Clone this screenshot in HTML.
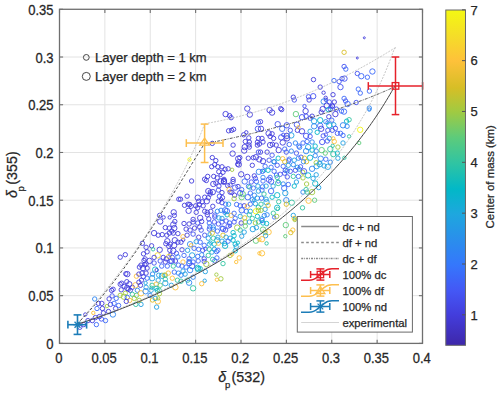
<!DOCTYPE html>
<html><head><meta charset="utf-8"><style>
html,body{margin:0;padding:0;background:#fff;}
svg{display:block;font-family:"Liberation Sans", sans-serif;}
text{stroke:#262626;stroke-width:0.25px;}
</style></head><body>
<svg width="500" height="396" viewBox="0 0 500 396">
<rect width="500" height="396" fill="#fff"/>
<line x1="104.88" y1="9.29" x2="104.88" y2="343.40" stroke="#e3e3e3" stroke-width="1"/>
<line x1="150.25" y1="9.29" x2="150.25" y2="343.40" stroke="#e3e3e3" stroke-width="1"/>
<line x1="195.63" y1="9.29" x2="195.63" y2="343.40" stroke="#e3e3e3" stroke-width="1"/>
<line x1="241.00" y1="9.29" x2="241.00" y2="343.40" stroke="#e3e3e3" stroke-width="1"/>
<line x1="286.38" y1="9.29" x2="286.38" y2="343.40" stroke="#e3e3e3" stroke-width="1"/>
<line x1="331.75" y1="9.29" x2="331.75" y2="343.40" stroke="#e3e3e3" stroke-width="1"/>
<line x1="377.13" y1="9.29" x2="377.13" y2="343.40" stroke="#e3e3e3" stroke-width="1"/>
<line x1="59.50" y1="295.67" x2="422.50" y2="295.67" stroke="#e3e3e3" stroke-width="1"/>
<line x1="59.50" y1="247.94" x2="422.50" y2="247.94" stroke="#e3e3e3" stroke-width="1"/>
<line x1="59.50" y1="200.21" x2="422.50" y2="200.21" stroke="#e3e3e3" stroke-width="1"/>
<line x1="59.50" y1="152.48" x2="422.50" y2="152.48" stroke="#e3e3e3" stroke-width="1"/>
<line x1="59.50" y1="104.75" x2="422.50" y2="104.75" stroke="#e3e3e3" stroke-width="1"/>
<line x1="59.50" y1="57.02" x2="422.50" y2="57.02" stroke="#e3e3e3" stroke-width="1"/>
<g fill="none" stroke-width="0.9"><circle cx="288.8" cy="160.8" r="2.2" stroke="#3c69f9"/><circle cx="276.5" cy="175.1" r="2.2" stroke="#3c69f9"/><circle cx="272.4" cy="144.3" r="2.2" stroke="#433ddc"/><circle cx="284.6" cy="173.2" r="2.2" stroke="#4452f0"/><circle cx="278.3" cy="181.4" r="1.7" stroke="#3c69f9"/><circle cx="287.0" cy="138.4" r="2.7" stroke="#433ddc"/><circle cx="274.0" cy="161.8" r="2.2" stroke="#4452f0"/><circle cx="299.6" cy="147.3" r="2.2" stroke="#2e86f2"/><circle cx="287.2" cy="170.9" r="2.2" stroke="#21a0e2"/><circle cx="264.1" cy="170.7" r="1.7" stroke="#05b6c9"/><circle cx="299.2" cy="169.1" r="2.2" stroke="#21a0e2"/><circle cx="259.3" cy="159.4" r="2.7" stroke="#433ddc"/><circle cx="325.9" cy="134.6" r="1.7" stroke="#4452f0"/><circle cx="330.6" cy="106.5" r="1.7" stroke="#4452f0"/><circle cx="313.2" cy="96.2" r="2.7" stroke="#4452f0"/><circle cx="327.5" cy="122.6" r="1.7" stroke="#3c69f9"/><circle cx="332.4" cy="106.0" r="2.2" stroke="#4452f0"/><circle cx="325.8" cy="99.8" r="1.7" stroke="#433ddc"/><circle cx="306.5" cy="161.7" r="2.2" stroke="#d9be27"/><circle cx="302.7" cy="172.3" r="2.2" stroke="#a1ca41"/><circle cx="332.7" cy="145.8" r="1.7" stroke="#31c4a1"/><circle cx="319.9" cy="162.7" r="1.7" stroke="#21a0e2"/><circle cx="316.6" cy="166.2" r="2.7" stroke="#21a0e2"/><circle cx="324.1" cy="165.9" r="2.2" stroke="#21a0e2"/><circle cx="238.0" cy="186.5" r="2.2" stroke="#433ddc"/><circle cx="223.9" cy="181.8" r="2.7" stroke="#433ddc"/><circle cx="220.9" cy="181.3" r="2.7" stroke="#433ddc"/><circle cx="231.8" cy="192.3" r="2.2" stroke="#433ddc"/><circle cx="224.6" cy="212.8" r="1.7" stroke="#2e86f2"/><circle cx="221.1" cy="199.2" r="1.7" stroke="#433ddc"/><circle cx="248.5" cy="186.4" r="2.2" stroke="#3c69f9"/><circle cx="227.7" cy="185.6" r="2.2" stroke="#433ddc"/><circle cx="236.6" cy="204.5" r="2.2" stroke="#3c69f9"/><circle cx="242.7" cy="194.0" r="2.7" stroke="#5fcb7a"/><circle cx="254.1" cy="200.3" r="1.7" stroke="#21a0e2"/><circle cx="226.9" cy="211.1" r="2.7" stroke="#3c69f9"/><circle cx="214.8" cy="260.8" r="2.2" stroke="#3c69f9"/><circle cx="213.4" cy="229.3" r="2.2" stroke="#2e86f2"/><circle cx="189.3" cy="263.2" r="2.7" stroke="#4452f0"/><circle cx="217.2" cy="240.2" r="2.7" stroke="#21a0e2"/><circle cx="211.9" cy="252.1" r="2.2" stroke="#21a0e2"/><circle cx="183.2" cy="239.8" r="1.7" stroke="#433ddc"/><circle cx="210.4" cy="242.6" r="1.7" stroke="#05b6c9"/><circle cx="209.6" cy="234.1" r="1.7" stroke="#21a0e2"/><circle cx="212.7" cy="259.4" r="2.2" stroke="#31c4a1"/><circle cx="209.8" cy="226.8" r="2.2" stroke="#2e86f2"/><circle cx="205.4" cy="248.9" r="1.7" stroke="#4452f0"/><circle cx="216.5" cy="251.6" r="2.2" stroke="#3c69f9"/><circle cx="224.6" cy="243.5" r="2.2" stroke="#21a0e2"/><circle cx="237.8" cy="242.7" r="1.7" stroke="#05b6c9"/><circle cx="235.3" cy="250.8" r="2.2" stroke="#05b6c9"/><circle cx="230.0" cy="225.8" r="1.7" stroke="#4452f0"/><circle cx="223.0" cy="228.9" r="2.7" stroke="#4452f0"/><circle cx="262.5" cy="186.8" r="2.2" stroke="#3c69f9"/><circle cx="264.3" cy="215.6" r="2.2" stroke="#2e86f2"/><circle cx="268.9" cy="179.7" r="2.7" stroke="#4452f0"/><circle cx="266.5" cy="202.2" r="2.7" stroke="#21a0e2"/><circle cx="294.8" cy="218.2" r="1.7" stroke="#31c4a1"/><circle cx="273.3" cy="213.2" r="2.2" stroke="#31c4a1"/><circle cx="207.2" cy="212.3" r="2.2" stroke="#433ddc"/><circle cx="210.1" cy="194.1" r="2.2" stroke="#433ddc"/><circle cx="189.7" cy="204.5" r="2.2" stroke="#433ddc"/><circle cx="214.9" cy="215.1" r="2.2" stroke="#4452f0"/><circle cx="145.6" cy="283.0" r="1.7" stroke="#21a0e2"/><circle cx="165.3" cy="275.2" r="2.2" stroke="#31c4a1"/><circle cx="157.2" cy="290.4" r="2.2" stroke="#05b6c9"/><circle cx="159.4" cy="293.7" r="2.2" stroke="#a1ca41"/><circle cx="162.0" cy="275.8" r="2.7" stroke="#21a0e2"/><circle cx="171.8" cy="260.9" r="2.7" stroke="#4452f0"/><circle cx="149.6" cy="260.9" r="2.7" stroke="#433ddc"/><circle cx="144.8" cy="264.8" r="2.2" stroke="#433ddc"/><circle cx="220.9" cy="278.8" r="2.2" stroke="#a1ca41"/><circle cx="204.7" cy="280.7" r="1.7" stroke="#21a0e2"/><circle cx="197.5" cy="267.8" r="2.7" stroke="#05b6c9"/><circle cx="125.8" cy="273.8" r="2.2" stroke="#433ddc"/><circle cx="111.6" cy="290.4" r="2.2" stroke="#433ddc"/><circle cx="143.3" cy="276.7" r="2.2" stroke="#433ddc"/><circle cx="127.2" cy="287.9" r="2.7" stroke="#433ddc"/><circle cx="123.9" cy="296.7" r="2.7" stroke="#a1ca41"/><circle cx="170.2" cy="254.6" r="1.7" stroke="#433ddc"/><circle cx="142.4" cy="243.3" r="2.2" stroke="#433ddc"/><circle cx="147.1" cy="251.8" r="2.2" stroke="#433ddc"/><circle cx="174.1" cy="245.4" r="2.7" stroke="#433ddc"/><circle cx="220.6" cy="175.0" r="1.7" stroke="#433ddc"/><circle cx="239.8" cy="157.6" r="2.2" stroke="#433ddc"/><circle cx="249.0" cy="144.9" r="2.2" stroke="#433ddc"/><circle cx="238.8" cy="164.5" r="2.7" stroke="#433ddc"/><circle cx="257.4" cy="142.2" r="2.2" stroke="#433ddc"/><circle cx="178.8" cy="199.2" r="2.2" stroke="#433ddc"/><circle cx="159.6" cy="215.4" r="2.2" stroke="#433ddc"/><circle cx="163.6" cy="217.4" r="1.7" stroke="#433ddc"/><circle cx="169.7" cy="217.4" r="1.7" stroke="#433ddc"/><circle cx="173.7" cy="212.3" r="2.7" stroke="#433ddc"/><circle cx="174.3" cy="215.4" r="2.2" stroke="#433ddc"/><circle cx="125.3" cy="254.7" r="2.2" stroke="#433ddc"/><circle cx="120.2" cy="257.2" r="2.2" stroke="#433ddc"/><circle cx="127.3" cy="274.1" r="2.7" stroke="#433ddc"/><circle cx="136.4" cy="276.2" r="2.2" stroke="#fec13a"/><circle cx="139.4" cy="267.1" r="2.2" stroke="#433ddc"/><circle cx="138.9" cy="274.1" r="2.2" stroke="#433ddc"/><circle cx="120.2" cy="284.2" r="2.2" stroke="#433ddc"/><circle cx="121.7" cy="283.2" r="2.2" stroke="#433ddc"/><circle cx="126.8" cy="281.7" r="2.2" stroke="#433ddc"/><circle cx="124.2" cy="286.3" r="2.2" stroke="#433ddc"/><circle cx="129.3" cy="284.2" r="2.7" stroke="#433ddc"/><circle cx="132.3" cy="287.3" r="2.2" stroke="#433ddc"/><circle cx="135.4" cy="285.3" r="2.7" stroke="#fec13a"/><circle cx="138.9" cy="282.2" r="2.2" stroke="#433ddc"/><circle cx="113.1" cy="289.3" r="2.2" stroke="#433ddc"/><circle cx="121.2" cy="289.8" r="2.2" stroke="#433ddc"/><circle cx="128.3" cy="289.3" r="2.2" stroke="#433ddc"/><circle cx="130.3" cy="290.3" r="2.2" stroke="#433ddc"/><circle cx="137.4" cy="290.3" r="2.2" stroke="#2e86f2"/><circle cx="112.1" cy="295.9" r="2.2" stroke="#4452f0"/><circle cx="120.2" cy="295.4" r="2.2" stroke="#a1ca41"/><circle cx="125.3" cy="293.3" r="2.2" stroke="#a1ca41"/><circle cx="132.3" cy="294.3" r="2.2" stroke="#31c4a1"/><circle cx="136.4" cy="295.4" r="2.2" stroke="#5fcb7a"/><circle cx="109.1" cy="298.9" r="2.2" stroke="#433ddc"/><circle cx="116.2" cy="298.4" r="2.2" stroke="#3c69f9"/><circle cx="127.3" cy="297.4" r="2.2" stroke="#3c69f9"/><circle cx="134.3" cy="298.4" r="2.2" stroke="#a1ca41"/><circle cx="212.3" cy="143.4" r="2.2" stroke="#433ddc"/><circle cx="189.5" cy="159.6" r="1.7" stroke="#F4F713"/><circle cx="212.3" cy="157.6" r="2.2" stroke="#433ddc"/><circle cx="215.8" cy="160.6" r="2.2" stroke="#433ddc"/><circle cx="214.7" cy="164.6" r="2.2" stroke="#433ddc"/><circle cx="217.8" cy="166.7" r="2.2" stroke="#433ddc"/><circle cx="211.7" cy="166.7" r="2.2" stroke="#433ddc"/><circle cx="218.8" cy="171.7" r="2.2" stroke="#433ddc"/><circle cx="207.7" cy="176.4" r="2.2" stroke="#433ddc"/><circle cx="213.7" cy="176.4" r="2.2" stroke="#433ddc"/><circle cx="217.2" cy="177.8" r="2.2" stroke="#433ddc"/><circle cx="204.6" cy="179.2" r="2.2" stroke="#433ddc"/><circle cx="160.2" cy="221.5" r="2.7" stroke="#433ddc"/><circle cx="174.8" cy="221.5" r="2.2" stroke="#433ddc"/><circle cx="173.3" cy="224.5" r="2.7" stroke="#433ddc"/><circle cx="165.3" cy="227.6" r="2.2" stroke="#433ddc"/><circle cx="169.3" cy="228.1" r="2.2" stroke="#433ddc"/><circle cx="174.3" cy="228.1" r="2.7" stroke="#433ddc"/><circle cx="171.8" cy="231.1" r="2.2" stroke="#433ddc"/><circle cx="154.1" cy="233.1" r="2.7" stroke="#433ddc"/><circle cx="158.2" cy="235.2" r="2.2" stroke="#433ddc"/><circle cx="162.2" cy="234.6" r="2.2" stroke="#433ddc"/><circle cx="166.8" cy="235.2" r="2.2" stroke="#433ddc"/><circle cx="169.3" cy="233.1" r="2.2" stroke="#433ddc"/><circle cx="173.3" cy="233.1" r="2.2" stroke="#433ddc"/><circle cx="177.9" cy="233.6" r="2.2" stroke="#433ddc"/><circle cx="167.3" cy="241.2" r="2.7" stroke="#433ddc"/><circle cx="174.8" cy="240.2" r="2.7" stroke="#433ddc"/><circle cx="177.9" cy="242.2" r="2.2" stroke="#433ddc"/><circle cx="165.8" cy="243.7" r="2.2" stroke="#433ddc"/><circle cx="170.3" cy="244.2" r="2.2" stroke="#433ddc"/><circle cx="168.8" cy="246.3" r="2.2" stroke="#433ddc"/><circle cx="146.1" cy="247.3" r="2.2" stroke="#433ddc"/><circle cx="151.6" cy="245.8" r="2.2" stroke="#433ddc"/><circle cx="153.1" cy="249.3" r="1.7" stroke="#31c4a1"/><circle cx="159.7" cy="249.8" r="2.7" stroke="#433ddc"/><circle cx="169.8" cy="250.3" r="2.2" stroke="#433ddc"/><circle cx="173.3" cy="250.8" r="2.7" stroke="#433ddc"/><circle cx="176.4" cy="253.3" r="2.2" stroke="#4452f0"/><circle cx="143.5" cy="253.8" r="2.2" stroke="#433ddc"/><circle cx="157.7" cy="255.4" r="2.7" stroke="#f5de27"/><circle cx="154.1" cy="257.4" r="2.2" stroke="#433ddc"/><circle cx="163.2" cy="257.4" r="2.2" stroke="#433ddc"/><circle cx="168.8" cy="256.4" r="2.2" stroke="#f5de27"/><circle cx="172.3" cy="257.4" r="2.2" stroke="#4452f0"/><circle cx="177.9" cy="256.9" r="2.2" stroke="#2e86f2"/><circle cx="145.1" cy="258.9" r="2.2" stroke="#433ddc"/><circle cx="166.3" cy="258.9" r="2.2" stroke="#433ddc"/><circle cx="157.8" cy="301.4" r="2.7" stroke="#fec13a"/><circle cx="152.5" cy="300.0" r="2.2" stroke="#d9be27"/><circle cx="156.6" cy="307.1" r="2.2" stroke="#21a0e2"/><circle cx="141.0" cy="304.4" r="2.2" stroke="#21a0e2"/><circle cx="144.0" cy="260.5" r="2.2" stroke="#433ddc"/><circle cx="154.1" cy="263.0" r="2.2" stroke="#4452f0"/><circle cx="160.2" cy="261.0" r="2.2" stroke="#4452f0"/><circle cx="165.3" cy="262.0" r="2.2" stroke="#433ddc"/><circle cx="170.3" cy="261.5" r="2.2" stroke="#4452f0"/><circle cx="175.4" cy="261.0" r="2.2" stroke="#433ddc"/><circle cx="141.0" cy="265.1" r="2.2" stroke="#433ddc"/><circle cx="146.1" cy="264.0" r="2.2" stroke="#433ddc"/><circle cx="143.0" cy="268.1" r="2.7" stroke="#433ddc"/><circle cx="147.1" cy="268.1" r="2.2" stroke="#433ddc"/><circle cx="155.2" cy="269.6" r="2.7" stroke="#05b6c9"/><circle cx="156.7" cy="270.1" r="1.7" stroke="#433ddc"/><circle cx="161.7" cy="266.1" r="2.2" stroke="#3c69f9"/><circle cx="167.3" cy="266.1" r="2.2" stroke="#3c69f9"/><circle cx="173.3" cy="266.1" r="2.2" stroke="#31c4a1"/><circle cx="178.4" cy="265.1" r="2.2" stroke="#3c69f9"/><circle cx="142.0" cy="273.1" r="2.2" stroke="#433ddc"/><circle cx="146.1" cy="273.1" r="2.2" stroke="#433ddc"/><circle cx="152.6" cy="274.1" r="2.2" stroke="#2e86f2"/><circle cx="158.7" cy="275.2" r="2.2" stroke="#21a0e2"/><circle cx="164.2" cy="275.2" r="2.2" stroke="#d9be27"/><circle cx="168.3" cy="273.1" r="2.2" stroke="#fec13a"/><circle cx="174.3" cy="272.1" r="2.2" stroke="#3c69f9"/><circle cx="178.4" cy="273.1" r="2.2" stroke="#2e86f2"/><circle cx="141.5" cy="280.2" r="2.2" stroke="#433ddc"/><circle cx="147.1" cy="278.2" r="2.2" stroke="#3c69f9"/><circle cx="152.1" cy="278.2" r="2.7" stroke="#21a0e2"/><circle cx="158.2" cy="280.2" r="2.2" stroke="#21a0e2"/><circle cx="165.3" cy="279.2" r="2.2" stroke="#31c4a1"/><circle cx="172.3" cy="278.2" r="2.2" stroke="#fec13a"/><circle cx="177.4" cy="280.2" r="2.2" stroke="#31c4a1"/><circle cx="140.5" cy="285.3" r="2.2" stroke="#433ddc"/><circle cx="146.1" cy="287.3" r="2.2" stroke="#21a0e2"/><circle cx="152.1" cy="285.3" r="2.2" stroke="#31c4a1"/><circle cx="156.2" cy="284.2" r="2.2" stroke="#fec13a"/><circle cx="160.2" cy="285.3" r="2.2" stroke="#5fcb7a"/><circle cx="165.3" cy="283.2" r="2.7" stroke="#21a0e2"/><circle cx="171.3" cy="285.3" r="2.2" stroke="#21a0e2"/><circle cx="175.4" cy="287.3" r="2.7" stroke="#fec13a"/><circle cx="151.6" cy="287.8" r="1.7" stroke="#31c4a1"/><circle cx="156.2" cy="288.3" r="2.2" stroke="#05b6c9"/><circle cx="141.0" cy="293.3" r="2.7" stroke="#fec13a"/><circle cx="145.6" cy="291.3" r="2.7" stroke="#2e86f2"/><circle cx="151.1" cy="290.3" r="2.2" stroke="#21a0e2"/><circle cx="159.2" cy="290.3" r="2.2" stroke="#31c4a1"/><circle cx="150.1" cy="295.4" r="2.2" stroke="#2e86f2"/><circle cx="155.2" cy="298.4" r="2.2" stroke="#21a0e2"/><circle cx="158.2" cy="298.4" r="1.7" stroke="#a1ca41"/><circle cx="191.6" cy="181.0" r="2.2" stroke="#433ddc"/><circle cx="206.3" cy="180.5" r="2.2" stroke="#433ddc"/><circle cx="213.3" cy="184.0" r="2.7" stroke="#433ddc"/><circle cx="215.9" cy="183.0" r="2.2" stroke="#433ddc"/><circle cx="218.9" cy="186.1" r="2.2" stroke="#433ddc"/><circle cx="218.4" cy="190.1" r="2.2" stroke="#4452f0"/><circle cx="219.4" cy="196.2" r="2.2" stroke="#4452f0"/><circle cx="218.4" cy="201.2" r="2.2" stroke="#433ddc"/><circle cx="208.3" cy="191.1" r="2.7" stroke="#433ddc"/><circle cx="210.3" cy="192.1" r="2.2" stroke="#433ddc"/><circle cx="212.8" cy="192.1" r="2.7" stroke="#433ddc"/><circle cx="187.1" cy="196.2" r="2.2" stroke="#433ddc"/><circle cx="180.5" cy="199.2" r="2.2" stroke="#433ddc"/><circle cx="197.7" cy="197.7" r="2.7" stroke="#433ddc"/><circle cx="204.7" cy="197.2" r="2.2" stroke="#433ddc"/><circle cx="208.3" cy="197.7" r="2.2" stroke="#433ddc"/><circle cx="198.7" cy="201.2" r="2.2" stroke="#433ddc"/><circle cx="202.2" cy="201.7" r="2.2" stroke="#433ddc"/><circle cx="206.8" cy="201.2" r="2.7" stroke="#433ddc"/><circle cx="184.5" cy="205.3" r="2.2" stroke="#433ddc"/><circle cx="188.1" cy="204.2" r="2.2" stroke="#433ddc"/><circle cx="191.1" cy="206.3" r="2.2" stroke="#433ddc"/><circle cx="195.7" cy="205.8" r="2.2" stroke="#433ddc"/><circle cx="199.2" cy="204.7" r="2.2" stroke="#433ddc"/><circle cx="203.2" cy="205.8" r="2.2" stroke="#433ddc"/><circle cx="197.7" cy="207.8" r="2.2" stroke="#433ddc"/><circle cx="188.6" cy="210.8" r="2.7" stroke="#433ddc"/><circle cx="196.2" cy="212.3" r="2.2" stroke="#433ddc"/><circle cx="204.7" cy="211.3" r="2.2" stroke="#433ddc"/><circle cx="210.8" cy="211.3" r="2.2" stroke="#433ddc"/><circle cx="212.8" cy="206.3" r="2.2" stroke="#433ddc"/><circle cx="217.4" cy="211.3" r="2.2" stroke="#2e86f2"/><circle cx="200.2" cy="217.9" r="2.7" stroke="#433ddc"/><circle cx="207.3" cy="214.8" r="2.2" stroke="#433ddc"/><circle cx="214.8" cy="216.9" r="2.2" stroke="#4452f0"/><circle cx="218.9" cy="217.9" r="2.2" stroke="#21a0e2"/><circle cx="193.1" cy="219.4" r="2.2" stroke="#433ddc"/><circle cx="208.8" cy="218.9" r="2.2" stroke="#433ddc"/><circle cx="184.0" cy="223.5" r="2.2" stroke="#433ddc"/><circle cx="189.1" cy="224.0" r="2.2" stroke="#433ddc"/><circle cx="193.1" cy="222.0" r="2.2" stroke="#433ddc"/><circle cx="197.7" cy="223.0" r="2.2" stroke="#4452f0"/><circle cx="201.7" cy="221.5" r="2.2" stroke="#433ddc"/><circle cx="209.3" cy="223.0" r="2.2" stroke="#3c69f9"/><circle cx="214.3" cy="222.0" r="2.2" stroke="#4452f0"/><circle cx="218.4" cy="224.0" r="2.2" stroke="#4452f0"/><circle cx="186.1" cy="229.1" r="2.2" stroke="#433ddc"/><circle cx="190.1" cy="230.1" r="2.2" stroke="#433ddc"/><circle cx="194.6" cy="228.1" r="2.2" stroke="#433ddc"/><circle cx="199.7" cy="227.1" r="2.2" stroke="#433ddc"/><circle cx="201.2" cy="230.1" r="2.2" stroke="#4452f0"/><circle cx="209.3" cy="229.1" r="2.2" stroke="#4452f0"/><circle cx="213.3" cy="227.1" r="2.2" stroke="#2e86f2"/><circle cx="217.4" cy="231.1" r="2.2" stroke="#3c69f9"/><circle cx="212.3" cy="233.1" r="2.2" stroke="#d9be27"/><circle cx="183.0" cy="236.7" r="2.2" stroke="#fec13a"/><circle cx="187.1" cy="235.2" r="2.2" stroke="#433ddc"/><circle cx="193.1" cy="234.1" r="2.2" stroke="#4452f0"/><circle cx="198.7" cy="237.2" r="2.2" stroke="#433ddc"/><circle cx="204.7" cy="235.2" r="2.2" stroke="#4452f0"/><circle cx="208.3" cy="238.2" r="2.2" stroke="#21a0e2"/><circle cx="213.3" cy="238.2" r="2.2" stroke="#31c4a1"/><circle cx="217.9" cy="237.2" r="2.2" stroke="#21a0e2"/><circle cx="181.0" cy="242.2" r="2.2" stroke="#433ddc"/><circle cx="190.1" cy="244.2" r="2.7" stroke="#2e86f2"/><circle cx="191.1" cy="245.3" r="1.7" stroke="#fec13a"/><circle cx="196.2" cy="241.7" r="2.2" stroke="#21a0e2"/><circle cx="200.2" cy="242.2" r="2.2" stroke="#3c69f9"/><circle cx="204.2" cy="245.3" r="2.2" stroke="#3c69f9"/><circle cx="209.3" cy="244.2" r="2.2" stroke="#21a0e2"/><circle cx="214.3" cy="244.2" r="2.2" stroke="#05b6c9"/><circle cx="218.4" cy="243.2" r="2.2" stroke="#fec13a"/><circle cx="182.0" cy="249.8" r="2.2" stroke="#433ddc"/><circle cx="187.6" cy="250.3" r="2.2" stroke="#21a0e2"/><circle cx="194.1" cy="248.3" r="2.2" stroke="#3c69f9"/><circle cx="198.7" cy="249.3" r="2.2" stroke="#3c69f9"/><circle cx="202.7" cy="250.3" r="2.2" stroke="#4452f0"/><circle cx="209.3" cy="249.3" r="2.2" stroke="#31c4a1"/><circle cx="214.3" cy="249.3" r="2.2" stroke="#21a0e2"/><circle cx="217.9" cy="250.3" r="2.2" stroke="#3c69f9"/><circle cx="184.0" cy="255.4" r="2.2" stroke="#3c69f9"/><circle cx="192.1" cy="255.4" r="2.7" stroke="#21a0e2"/><circle cx="197.7" cy="256.4" r="2.2" stroke="#3c69f9"/><circle cx="201.7" cy="254.8" r="2.2" stroke="#2e86f2"/><circle cx="208.3" cy="255.4" r="2.2" stroke="#31c4a1"/><circle cx="216.9" cy="257.9" r="2.2" stroke="#3c69f9"/><circle cx="189.1" cy="258.9" r="2.2" stroke="#4452f0"/><circle cx="204.2" cy="258.9" r="2.2" stroke="#433ddc"/><circle cx="183.0" cy="262.0" r="2.2" stroke="#fec13a"/><circle cx="189.1" cy="261.5" r="2.2" stroke="#2e86f2"/><circle cx="193.1" cy="262.0" r="2.2" stroke="#3c69f9"/><circle cx="198.2" cy="261.0" r="2.2" stroke="#3c69f9"/><circle cx="204.2" cy="261.5" r="2.2" stroke="#4452f0"/><circle cx="206.3" cy="264.0" r="2.7" stroke="#a1ca41"/><circle cx="182.0" cy="266.1" r="2.2" stroke="#3c69f9"/><circle cx="186.1" cy="267.1" r="2.2" stroke="#3c69f9"/><circle cx="192.1" cy="266.1" r="2.7" stroke="#4452f0"/><circle cx="190.1" cy="270.1" r="2.7" stroke="#2e86f2"/><circle cx="198.2" cy="269.1" r="2.7" stroke="#05b6c9"/><circle cx="200.2" cy="268.6" r="2.2" stroke="#05b6c9"/><circle cx="205.3" cy="271.6" r="2.2" stroke="#21a0e2"/><circle cx="183.0" cy="271.1" r="2.2" stroke="#21a0e2"/><circle cx="185.1" cy="274.1" r="2.2" stroke="#21a0e2"/><circle cx="181.0" cy="275.2" r="2.2" stroke="#2e86f2"/><circle cx="193.1" cy="277.2" r="2.2" stroke="#2e86f2"/><circle cx="187.6" cy="280.2" r="2.2" stroke="#31c4a1"/><circle cx="189.1" cy="282.7" r="2.7" stroke="#2e86f2"/><circle cx="181.0" cy="281.2" r="2.2" stroke="#31c4a1"/><circle cx="193.1" cy="288.3" r="2.7" stroke="#31c4a1"/><circle cx="201.7" cy="283.7" r="2.2" stroke="#fec13a"/><circle cx="216.4" cy="274.6" r="1.7" stroke="#a1ca41"/><circle cx="216.9" cy="279.7" r="1.7" stroke="#fec13a"/><circle cx="247.3" cy="108.6" r="2.7" stroke="#433ddc"/><circle cx="249.8" cy="114.6" r="2.7" stroke="#433ddc"/><circle cx="225.6" cy="114.1" r="2.7" stroke="#433ddc"/><circle cx="229.6" cy="115.7" r="2.2" stroke="#433ddc"/><circle cx="231.1" cy="117.7" r="2.2" stroke="#433ddc"/><circle cx="228.6" cy="130.8" r="2.2" stroke="#433ddc"/><circle cx="231.6" cy="130.3" r="2.2" stroke="#433ddc"/><circle cx="233.6" cy="129.3" r="2.2" stroke="#433ddc"/><circle cx="246.3" cy="132.3" r="1.7" stroke="#433ddc"/><circle cx="243.7" cy="134.8" r="2.2" stroke="#433ddc"/><circle cx="248.8" cy="137.9" r="2.2" stroke="#433ddc"/><circle cx="258.4" cy="122.2" r="2.2" stroke="#4452f0"/><circle cx="257.9" cy="128.8" r="2.7" stroke="#4452f0"/><circle cx="258.4" cy="138.4" r="2.2" stroke="#433ddc"/><circle cx="233.1" cy="145.1" r="2.2" stroke="#433ddc"/><circle cx="245.3" cy="141.5" r="2.2" stroke="#433ddc"/><circle cx="249.3" cy="142.0" r="2.2" stroke="#433ddc"/><circle cx="244.7" cy="147.1" r="2.7" stroke="#433ddc"/><circle cx="249.3" cy="147.1" r="2.2" stroke="#433ddc"/><circle cx="244.2" cy="150.6" r="2.7" stroke="#433ddc"/><circle cx="232.6" cy="153.6" r="2.7" stroke="#433ddc"/><circle cx="238.2" cy="158.7" r="2.7" stroke="#433ddc"/><circle cx="238.7" cy="161.7" r="2.2" stroke="#433ddc"/><circle cx="237.7" cy="164.2" r="2.2" stroke="#433ddc"/><circle cx="248.3" cy="158.2" r="2.2" stroke="#433ddc"/><circle cx="253.3" cy="157.7" r="2.2" stroke="#433ddc"/><circle cx="255.9" cy="157.2" r="2.7" stroke="#433ddc"/><circle cx="258.4" cy="152.1" r="2.2" stroke="#4452f0"/><circle cx="257.4" cy="145.1" r="2.2" stroke="#433ddc"/><circle cx="259.4" cy="144.0" r="2.2" stroke="#433ddc"/><circle cx="252.3" cy="165.3" r="2.2" stroke="#433ddc"/><circle cx="222.0" cy="166.8" r="2.2" stroke="#433ddc"/><circle cx="225.1" cy="169.3" r="2.2" stroke="#433ddc"/><circle cx="228.1" cy="168.8" r="2.2" stroke="#433ddc"/><circle cx="232.1" cy="169.8" r="1.7" stroke="#a1ca41"/><circle cx="223.0" cy="172.3" r="2.2" stroke="#433ddc"/><circle cx="241.2" cy="174.3" r="2.7" stroke="#433ddc"/><circle cx="247.3" cy="176.9" r="2.7" stroke="#433ddc"/><circle cx="254.3" cy="175.9" r="2.2" stroke="#433ddc"/><circle cx="255.4" cy="178.4" r="2.2" stroke="#4452f0"/><circle cx="258.9" cy="171.8" r="2.7" stroke="#2e86f2"/><circle cx="224.0" cy="179.4" r="2.2" stroke="#433ddc"/><circle cx="233.1" cy="179.4" r="2.2" stroke="#433ddc"/><circle cx="224.0" cy="181.0" r="2.7" stroke="#433ddc"/><circle cx="233.1" cy="181.5" r="2.2" stroke="#433ddc"/><circle cx="244.7" cy="181.5" r="2.7" stroke="#3c69f9"/><circle cx="251.3" cy="182.0" r="2.2" stroke="#4452f0"/><circle cx="256.4" cy="181.5" r="2.2" stroke="#3c69f9"/><circle cx="230.1" cy="185.1" r="2.2" stroke="#433ddc"/><circle cx="235.2" cy="187.6" r="2.7" stroke="#4452f0"/><circle cx="229.1" cy="189.6" r="2.2" stroke="#fec13a"/><circle cx="230.1" cy="192.1" r="2.2" stroke="#433ddc"/><circle cx="241.7" cy="189.6" r="2.2" stroke="#3c69f9"/><circle cx="240.2" cy="193.1" r="2.7" stroke="#4452f0"/><circle cx="234.6" cy="195.2" r="2.2" stroke="#433ddc"/><circle cx="234.1" cy="198.7" r="2.2" stroke="#a1ca41"/><circle cx="241.7" cy="197.2" r="2.7" stroke="#5fcb7a"/><circle cx="249.8" cy="187.1" r="2.2" stroke="#31c4a1"/><circle cx="253.3" cy="188.1" r="2.2" stroke="#3c69f9"/><circle cx="257.9" cy="186.1" r="2.2" stroke="#21a0e2"/><circle cx="258.4" cy="191.1" r="2.2" stroke="#21a0e2"/><circle cx="250.3" cy="193.1" r="2.2" stroke="#3c69f9"/><circle cx="254.3" cy="195.2" r="2.2" stroke="#2e86f2"/><circle cx="247.8" cy="197.2" r="2.7" stroke="#3c69f9"/><circle cx="252.3" cy="199.7" r="2.2" stroke="#2e86f2"/><circle cx="257.4" cy="198.2" r="2.2" stroke="#21a0e2"/><circle cx="222.0" cy="192.6" r="2.2" stroke="#433ddc"/><circle cx="222.5" cy="197.7" r="2.2" stroke="#433ddc"/><circle cx="222.0" cy="202.7" r="2.2" stroke="#433ddc"/><circle cx="225.6" cy="204.2" r="2.2" stroke="#3c69f9"/><circle cx="228.6" cy="204.2" r="2.2" stroke="#21a0e2"/><circle cx="225.1" cy="210.3" r="2.7" stroke="#3c69f9"/><circle cx="221.0" cy="210.3" r="2.2" stroke="#2e86f2"/><circle cx="227.1" cy="214.8" r="2.2" stroke="#05b6c9"/><circle cx="231.1" cy="215.4" r="2.2" stroke="#fec13a"/><circle cx="234.1" cy="213.3" r="2.2" stroke="#3c69f9"/><circle cx="235.2" cy="218.4" r="2.2" stroke="#3c69f9"/><circle cx="240.2" cy="205.8" r="2.2" stroke="#3c69f9"/><circle cx="244.2" cy="205.8" r="2.2" stroke="#433ddc"/><circle cx="247.3" cy="206.3" r="2.2" stroke="#fec13a"/><circle cx="250.3" cy="204.2" r="2.2" stroke="#3c69f9"/><circle cx="255.4" cy="203.7" r="2.2" stroke="#21a0e2"/><circle cx="258.4" cy="207.3" r="2.2" stroke="#31c4a1"/><circle cx="241.7" cy="210.3" r="2.7" stroke="#3c69f9"/><circle cx="246.3" cy="211.3" r="2.2" stroke="#3c69f9"/><circle cx="250.3" cy="211.3" r="2.2" stroke="#21a0e2"/><circle cx="255.9" cy="211.3" r="2.7" stroke="#F4F713"/><circle cx="258.4" cy="210.3" r="2.2" stroke="#a1ca41"/><circle cx="240.2" cy="216.4" r="2.2" stroke="#21a0e2"/><circle cx="244.7" cy="217.9" r="2.2" stroke="#d9be27"/><circle cx="249.3" cy="214.8" r="2.2" stroke="#31c4a1"/><circle cx="252.3" cy="218.4" r="2.2" stroke="#31c4a1"/><circle cx="257.4" cy="216.4" r="2.2" stroke="#05b6c9"/><circle cx="222.0" cy="218.4" r="2.2" stroke="#21a0e2"/><circle cx="222.0" cy="222.0" r="2.2" stroke="#4452f0"/><circle cx="226.1" cy="221.0" r="2.2" stroke="#4452f0"/><circle cx="229.6" cy="223.0" r="2.2" stroke="#3c69f9"/><circle cx="234.1" cy="222.0" r="2.2" stroke="#4452f0"/><circle cx="241.2" cy="223.0" r="2.2" stroke="#433ddc"/><circle cx="245.3" cy="222.0" r="2.2" stroke="#a1ca41"/><circle cx="249.3" cy="222.0" r="2.2" stroke="#21a0e2"/><circle cx="255.4" cy="223.0" r="2.2" stroke="#a1ca41"/><circle cx="258.4" cy="222.0" r="2.2" stroke="#31c4a1"/><circle cx="222.0" cy="228.1" r="2.2" stroke="#3c69f9"/><circle cx="225.6" cy="230.1" r="2.2" stroke="#4452f0"/><circle cx="228.1" cy="226.1" r="2.2" stroke="#4452f0"/><circle cx="237.2" cy="227.6" r="2.7" stroke="#a1ca41"/><circle cx="240.2" cy="230.1" r="2.2" stroke="#31c4a1"/><circle cx="245.3" cy="226.1" r="2.2" stroke="#5fcb7a"/><circle cx="244.2" cy="232.1" r="2.2" stroke="#21a0e2"/><circle cx="252.8" cy="229.1" r="2.7" stroke="#21a0e2"/><circle cx="256.4" cy="227.6" r="2.2" stroke="#21a0e2"/><circle cx="233.1" cy="232.6" r="2.2" stroke="#05b6c9"/><circle cx="234.1" cy="235.7" r="2.2" stroke="#05b6c9"/><circle cx="223.0" cy="235.2" r="2.2" stroke="#d9be27"/><circle cx="226.1" cy="237.2" r="2.2" stroke="#21a0e2"/><circle cx="230.1" cy="238.2" r="2.2" stroke="#21a0e2"/><circle cx="241.7" cy="236.2" r="2.2" stroke="#21a0e2"/><circle cx="222.0" cy="241.2" r="2.2" stroke="#21a0e2"/><circle cx="228.1" cy="241.2" r="2.2" stroke="#3c69f9"/><circle cx="233.1" cy="240.2" r="2.2" stroke="#05b6c9"/><circle cx="235.2" cy="244.2" r="2.2" stroke="#05b6c9"/><circle cx="225.1" cy="245.8" r="2.7" stroke="#05b6c9"/><circle cx="236.2" cy="246.8" r="2.2" stroke="#21a0e2"/><circle cx="255.9" cy="240.7" r="2.7" stroke="#5fcb7a"/><circle cx="230.1" cy="255.4" r="2.2" stroke="#a1ca41"/><circle cx="232.1" cy="254.3" r="1.7" stroke="#fec13a"/><circle cx="239.2" cy="257.9" r="2.2" stroke="#fec13a"/><circle cx="259.4" cy="253.3" r="1.7" stroke="#fec13a"/><circle cx="259.4" cy="239.7" r="1.7" stroke="#fec13a"/><circle cx="223.0" cy="263.6" r="2.2" stroke="#31c4a1"/><circle cx="236.2" cy="262.0" r="1.7" stroke="#fec13a"/><circle cx="269.6" cy="110.1" r="2.7" stroke="#433ddc"/><circle cx="272.1" cy="112.6" r="2.7" stroke="#433ddc"/><circle cx="280.7" cy="108.6" r="2.2" stroke="#433ddc"/><circle cx="281.7" cy="109.6" r="2.2" stroke="#433ddc"/><circle cx="295.9" cy="114.1" r="2.7" stroke="#5fcb7a"/><circle cx="260.5" cy="121.7" r="2.2" stroke="#433ddc"/><circle cx="261.0" cy="128.8" r="2.7" stroke="#433ddc"/><circle cx="277.7" cy="124.2" r="2.7" stroke="#4452f0"/><circle cx="282.2" cy="128.8" r="2.7" stroke="#3c69f9"/><circle cx="286.8" cy="125.3" r="2.7" stroke="#4452f0"/><circle cx="290.3" cy="130.3" r="2.2" stroke="#4452f0"/><circle cx="291.3" cy="135.4" r="2.7" stroke="#21a0e2"/><circle cx="286.8" cy="135.9" r="2.7" stroke="#433ddc"/><circle cx="281.2" cy="137.4" r="2.7" stroke="#4452f0"/><circle cx="283.2" cy="134.8" r="1.7" stroke="#4452f0"/><circle cx="268.6" cy="133.3" r="2.7" stroke="#433ddc"/><circle cx="272.1" cy="133.8" r="2.2" stroke="#433ddc"/><circle cx="270.1" cy="136.4" r="2.2" stroke="#433ddc"/><circle cx="273.6" cy="138.4" r="2.2" stroke="#433ddc"/><circle cx="262.0" cy="138.4" r="2.2" stroke="#433ddc"/><circle cx="296.9" cy="124.7" r="2.7" stroke="#4452f0"/><circle cx="297.4" cy="130.3" r="2.2" stroke="#433ddc"/><circle cx="298.4" cy="127.3" r="1.7" stroke="#fec13a"/><circle cx="294.3" cy="100.0" r="2.2" stroke="#4452f0"/><circle cx="263.0" cy="142.0" r="2.2" stroke="#433ddc"/><circle cx="270.1" cy="145.1" r="2.7" stroke="#433ddc"/><circle cx="276.2" cy="145.1" r="2.2" stroke="#433ddc"/><circle cx="282.7" cy="142.5" r="2.7" stroke="#433ddc"/><circle cx="289.3" cy="144.5" r="2.2" stroke="#3c69f9"/><circle cx="295.4" cy="143.0" r="2.2" stroke="#2e86f2"/><circle cx="298.9" cy="146.1" r="2.2" stroke="#3c69f9"/><circle cx="267.1" cy="152.1" r="2.2" stroke="#433ddc"/><circle cx="272.1" cy="155.2" r="2.2" stroke="#4452f0"/><circle cx="278.7" cy="150.1" r="2.7" stroke="#433ddc"/><circle cx="284.7" cy="149.1" r="2.2" stroke="#3c69f9"/><circle cx="286.3" cy="152.1" r="2.2" stroke="#4452f0"/><circle cx="291.3" cy="151.1" r="2.2" stroke="#2e86f2"/><circle cx="296.4" cy="153.1" r="2.2" stroke="#4452f0"/><circle cx="260.5" cy="152.1" r="2.2" stroke="#433ddc"/><circle cx="263.0" cy="161.2" r="2.7" stroke="#433ddc"/><circle cx="269.1" cy="160.2" r="2.2" stroke="#4452f0"/><circle cx="274.1" cy="161.7" r="2.2" stroke="#21a0e2"/><circle cx="278.2" cy="158.2" r="2.2" stroke="#05b6c9"/><circle cx="282.7" cy="158.7" r="2.2" stroke="#fec13a"/><circle cx="284.7" cy="161.7" r="2.2" stroke="#d9be27"/><circle cx="289.3" cy="159.2" r="2.2" stroke="#3c69f9"/><circle cx="294.3" cy="160.2" r="2.2" stroke="#21a0e2"/><circle cx="298.4" cy="158.2" r="2.2" stroke="#2e86f2"/><circle cx="265.1" cy="166.3" r="2.2" stroke="#3c69f9"/><circle cx="271.1" cy="167.3" r="2.2" stroke="#3c69f9"/><circle cx="277.2" cy="165.3" r="2.2" stroke="#4452f0"/><circle cx="283.2" cy="166.3" r="2.2" stroke="#3c69f9"/><circle cx="288.3" cy="165.3" r="2.2" stroke="#21a0e2"/><circle cx="293.3" cy="164.7" r="2.2" stroke="#2e86f2"/><circle cx="297.4" cy="167.3" r="2.2" stroke="#21a0e2"/><circle cx="262.5" cy="171.3" r="2.2" stroke="#3c69f9"/><circle cx="268.1" cy="170.3" r="2.2" stroke="#05b6c9"/><circle cx="274.1" cy="171.3" r="2.2" stroke="#3c69f9"/><circle cx="280.2" cy="174.3" r="2.2" stroke="#4452f0"/><circle cx="285.3" cy="170.3" r="2.2" stroke="#4452f0"/><circle cx="290.3" cy="171.3" r="2.2" stroke="#4452f0"/><circle cx="295.4" cy="170.3" r="2.2" stroke="#4452f0"/><circle cx="263.0" cy="177.4" r="2.2" stroke="#2e86f2"/><circle cx="270.1" cy="177.4" r="2.2" stroke="#3c69f9"/><circle cx="277.2" cy="177.4" r="2.2" stroke="#31c4a1"/><circle cx="287.3" cy="176.9" r="2.2" stroke="#4452f0"/><circle cx="293.3" cy="176.4" r="2.2" stroke="#31c4a1"/><circle cx="298.4" cy="176.4" r="2.2" stroke="#3c69f9"/><circle cx="263.0" cy="181.0" r="2.2" stroke="#3c69f9"/><circle cx="271.1" cy="181.5" r="2.7" stroke="#4452f0"/><circle cx="278.2" cy="183.0" r="2.7" stroke="#31c4a1"/><circle cx="283.2" cy="184.0" r="2.2" stroke="#2e86f2"/><circle cx="288.3" cy="184.5" r="2.2" stroke="#3c69f9"/><circle cx="296.4" cy="182.0" r="2.2" stroke="#21a0e2"/><circle cx="294.3" cy="186.1" r="2.2" stroke="#05b6c9"/><circle cx="266.1" cy="186.1" r="2.2" stroke="#21a0e2"/><circle cx="273.1" cy="186.1" r="2.2" stroke="#21a0e2"/><circle cx="262.0" cy="190.1" r="2.2" stroke="#3c69f9"/><circle cx="271.1" cy="191.1" r="2.7" stroke="#3c69f9"/><circle cx="284.2" cy="188.1" r="2.7" stroke="#3c69f9"/><circle cx="285.3" cy="193.1" r="2.7" stroke="#21a0e2"/><circle cx="277.2" cy="195.2" r="2.7" stroke="#05b6c9"/><circle cx="264.0" cy="194.1" r="2.2" stroke="#31c4a1"/><circle cx="261.5" cy="198.2" r="2.2" stroke="#3c69f9"/><circle cx="266.1" cy="199.2" r="2.2" stroke="#21a0e2"/><circle cx="272.1" cy="197.2" r="2.2" stroke="#05b6c9"/><circle cx="286.3" cy="200.2" r="2.7" stroke="#2e86f2"/><circle cx="278.7" cy="201.7" r="2.2" stroke="#31c4a1"/><circle cx="291.8" cy="202.7" r="2.7" stroke="#31c4a1"/><circle cx="268.1" cy="205.3" r="2.2" stroke="#d9be27"/><circle cx="261.0" cy="204.2" r="2.2" stroke="#31c4a1"/><circle cx="286.3" cy="204.2" r="2.2" stroke="#d9be27"/><circle cx="277.2" cy="207.8" r="2.7" stroke="#05b6c9"/><circle cx="277.7" cy="208.8" r="1.7" stroke="#31c4a1"/><circle cx="265.1" cy="209.3" r="2.2" stroke="#21a0e2"/><circle cx="261.0" cy="210.3" r="2.2" stroke="#a1ca41"/><circle cx="267.1" cy="214.8" r="2.2" stroke="#2e86f2"/><circle cx="293.3" cy="215.4" r="2.2" stroke="#21a0e2"/><circle cx="294.3" cy="218.4" r="2.2" stroke="#fec13a"/><circle cx="274.1" cy="217.4" r="1.7" stroke="#3c69f9"/><circle cx="276.7" cy="216.4" r="2.2" stroke="#a1ca41"/><circle cx="262.0" cy="218.9" r="2.2" stroke="#21a0e2"/><circle cx="313.5" cy="79.6" r="2.2" stroke="#433ddc"/><circle cx="320.2" cy="87.1" r="2.2" stroke="#433ddc"/><circle cx="323.6" cy="92.7" r="1.7" stroke="#433ddc"/><circle cx="325.7" cy="97.8" r="1.7" stroke="#433ddc"/><circle cx="293.3" cy="97.2" r="2.2" stroke="#433ddc"/><circle cx="308.5" cy="96.8" r="2.2" stroke="#4452f0"/><circle cx="262.0" cy="220.5" r="2.2" stroke="#3c69f9"/><circle cx="263.0" cy="223.0" r="2.2" stroke="#05b6c9"/><circle cx="266.6" cy="223.5" r="2.2" stroke="#05b6c9"/><circle cx="263.0" cy="229.6" r="2.7" stroke="#5fcb7a"/><circle cx="268.6" cy="232.1" r="2.7" stroke="#fec13a"/><circle cx="265.1" cy="232.6" r="2.2" stroke="#a1ca41"/><circle cx="265.6" cy="235.7" r="2.2" stroke="#21a0e2"/><circle cx="262.0" cy="239.2" r="2.7" stroke="#fec13a"/><circle cx="266.6" cy="243.4" r="1.7" stroke="#31c4a1"/><circle cx="285.8" cy="225.1" r="2.7" stroke="#5fcb7a"/><circle cx="292.8" cy="230.1" r="2.2" stroke="#fec13a"/><circle cx="290.8" cy="232.6" r="2.2" stroke="#d9be27"/><circle cx="285.3" cy="236.2" r="1.7" stroke="#5fcb7a"/><circle cx="262.0" cy="253.3" r="2.7" stroke="#fec13a"/><circle cx="294.8" cy="220.0" r="1.7" stroke="#a1ca41"/><circle cx="304.5" cy="106.1" r="1.7" stroke="#4452f0"/><circle cx="305.6" cy="111.1" r="2.7" stroke="#433ddc"/><circle cx="309.1" cy="100.0" r="2.2" stroke="#433ddc"/><circle cx="323.7" cy="101.5" r="2.7" stroke="#2e86f2"/><circle cx="329.3" cy="102.0" r="2.2" stroke="#4452f0"/><circle cx="334.3" cy="102.0" r="2.2" stroke="#433ddc"/><circle cx="326.8" cy="105.6" r="2.7" stroke="#433ddc"/><circle cx="332.3" cy="106.1" r="2.2" stroke="#433ddc"/><circle cx="322.7" cy="109.1" r="2.7" stroke="#433ddc"/><circle cx="321.2" cy="112.1" r="2.2" stroke="#433ddc"/><circle cx="328.3" cy="109.6" r="2.2" stroke="#05b6c9"/><circle cx="330.3" cy="109.1" r="2.2" stroke="#4452f0"/><circle cx="336.4" cy="109.1" r="2.2" stroke="#4452f0"/><circle cx="335.4" cy="114.1" r="2.7" stroke="#433ddc"/><circle cx="328.8" cy="116.7" r="2.2" stroke="#433ddc"/><circle cx="302.0" cy="117.2" r="2.7" stroke="#4452f0"/><circle cx="306.1" cy="116.2" r="2.2" stroke="#4452f0"/><circle cx="310.1" cy="118.2" r="2.2" stroke="#4452f0"/><circle cx="312.1" cy="116.2" r="2.2" stroke="#433ddc"/><circle cx="314.1" cy="121.2" r="2.7" stroke="#21a0e2"/><circle cx="320.2" cy="120.2" r="2.7" stroke="#05b6c9"/><circle cx="325.8" cy="121.7" r="2.2" stroke="#2e86f2"/><circle cx="331.8" cy="120.2" r="2.2" stroke="#3c69f9"/><circle cx="329.3" cy="125.3" r="2.7" stroke="#05b6c9"/><circle cx="333.8" cy="124.7" r="2.2" stroke="#21a0e2"/><circle cx="314.1" cy="126.3" r="2.7" stroke="#2e86f2"/><circle cx="320.2" cy="125.8" r="2.7" stroke="#3c69f9"/><circle cx="321.2" cy="128.8" r="2.7" stroke="#433ddc"/><circle cx="327.8" cy="130.3" r="2.2" stroke="#4452f0"/><circle cx="332.3" cy="130.3" r="2.2" stroke="#4452f0"/><circle cx="335.4" cy="128.3" r="2.2" stroke="#4452f0"/><circle cx="337.4" cy="133.3" r="2.2" stroke="#4452f0"/><circle cx="302.0" cy="131.3" r="2.7" stroke="#433ddc"/><circle cx="310.1" cy="131.3" r="2.2" stroke="#21a0e2"/><circle cx="317.2" cy="132.3" r="2.2" stroke="#05b6c9"/><circle cx="306.1" cy="135.9" r="2.7" stroke="#4452f0"/><circle cx="310.1" cy="136.4" r="2.2" stroke="#4452f0"/><circle cx="323.2" cy="135.9" r="2.2" stroke="#4452f0"/><circle cx="329.3" cy="138.4" r="2.2" stroke="#21a0e2"/><circle cx="333.3" cy="138.4" r="1.7" stroke="#fec13a"/><circle cx="303.0" cy="143.0" r="2.2" stroke="#3c69f9"/><circle cx="307.1" cy="141.5" r="2.2" stroke="#3c69f9"/><circle cx="312.1" cy="142.0" r="2.2" stroke="#2e86f2"/><circle cx="315.2" cy="146.1" r="2.2" stroke="#05b6c9"/><circle cx="322.2" cy="142.0" r="2.7" stroke="#4452f0"/><circle cx="327.3" cy="141.0" r="2.2" stroke="#4452f0"/><circle cx="334.3" cy="141.5" r="2.2" stroke="#fec13a"/><circle cx="308.1" cy="147.1" r="2.7" stroke="#21a0e2"/><circle cx="306.1" cy="151.1" r="2.7" stroke="#2e86f2"/><circle cx="312.1" cy="150.1" r="2.2" stroke="#05b6c9"/><circle cx="316.2" cy="151.1" r="2.2" stroke="#2e86f2"/><circle cx="321.7" cy="150.1" r="2.7" stroke="#5fcb7a"/><circle cx="325.3" cy="153.1" r="2.2" stroke="#5fcb7a"/><circle cx="330.3" cy="149.1" r="2.7" stroke="#31c4a1"/><circle cx="333.3" cy="154.1" r="2.7" stroke="#31c4a1"/><circle cx="337.9" cy="147.1" r="2.2" stroke="#a1ca41"/><circle cx="337.4" cy="153.1" r="2.2" stroke="#05b6c9"/><circle cx="301.0" cy="157.2" r="2.2" stroke="#4452f0"/><circle cx="304.5" cy="158.2" r="2.2" stroke="#d9be27"/><circle cx="310.1" cy="157.7" r="2.7" stroke="#05b6c9"/><circle cx="315.2" cy="155.7" r="2.2" stroke="#2e86f2"/><circle cx="320.7" cy="158.7" r="2.7" stroke="#2e86f2"/><circle cx="325.8" cy="159.2" r="2.2" stroke="#3c69f9"/><circle cx="330.3" cy="162.2" r="2.2" stroke="#2e86f2"/><circle cx="303.5" cy="161.7" r="2.2" stroke="#2e86f2"/><circle cx="316.2" cy="162.7" r="2.2" stroke="#a1ca41"/><circle cx="319.7" cy="164.2" r="2.7" stroke="#21a0e2"/><circle cx="327.8" cy="166.8" r="2.7" stroke="#21a0e2"/><circle cx="300.5" cy="166.8" r="2.2" stroke="#4452f0"/><circle cx="304.0" cy="171.3" r="2.7" stroke="#4452f0"/><circle cx="312.1" cy="168.8" r="2.7" stroke="#2e86f2"/><circle cx="308.1" cy="175.4" r="2.7" stroke="#05b6c9"/><circle cx="316.2" cy="174.8" r="2.2" stroke="#21a0e2"/><circle cx="303.0" cy="177.9" r="2.2" stroke="#a1ca41"/><circle cx="313.1" cy="178.4" r="2.2" stroke="#21a0e2"/><circle cx="337.9" cy="158.2" r="2.2" stroke="#21a0e2"/><circle cx="306.6" cy="184.0" r="2.2" stroke="#a1ca41"/><circle cx="315.2" cy="183.5" r="2.7" stroke="#05b6c9"/><circle cx="318.7" cy="187.6" r="2.2" stroke="#21a0e2"/><circle cx="306.1" cy="189.6" r="2.2" stroke="#31c4a1"/><circle cx="303.0" cy="192.1" r="2.2" stroke="#2e86f2"/><circle cx="307.1" cy="192.1" r="2.2" stroke="#31c4a1"/><circle cx="312.1" cy="192.1" r="2.7" stroke="#a1ca41"/><circle cx="308.6" cy="200.7" r="2.7" stroke="#fec13a"/><circle cx="314.6" cy="200.2" r="2.2" stroke="#5fcb7a"/><circle cx="302.5" cy="207.8" r="2.2" stroke="#31c4a1"/><circle cx="364.3" cy="37.8" r="1.0" stroke="#433ddc"/><circle cx="344.1" cy="52.3" r="2.2" stroke="#d9be27"/><circle cx="357.3" cy="58.0" r="1.0" stroke="#433ddc"/><circle cx="344.1" cy="66.5" r="2.2" stroke="#4452f0"/><circle cx="345.8" cy="69.1" r="2.2" stroke="#3c69f9"/><circle cx="357.3" cy="73.5" r="2.2" stroke="#4452f0"/><circle cx="361.3" cy="76.2" r="2.7" stroke="#3c69f9"/><circle cx="367.4" cy="77.2" r="2.2" stroke="#3c69f9"/><circle cx="372.4" cy="71.5" r="2.7" stroke="#3c69f9"/><circle cx="334.0" cy="80.6" r="2.2" stroke="#3c69f9"/><circle cx="339.1" cy="81.6" r="2.2" stroke="#4452f0"/><circle cx="342.1" cy="78.6" r="2.2" stroke="#4452f0"/><circle cx="344.5" cy="78.6" r="2.7" stroke="#4452f0"/><circle cx="340.5" cy="87.1" r="2.7" stroke="#4452f0"/><circle cx="358.3" cy="89.1" r="2.2" stroke="#3c69f9"/><circle cx="360.3" cy="93.1" r="2.2" stroke="#3c69f9"/><circle cx="369.4" cy="91.1" r="2.2" stroke="#3c69f9"/><circle cx="333.0" cy="94.7" r="2.2" stroke="#433ddc"/><circle cx="344.1" cy="98.4" r="2.2" stroke="#3c69f9"/><circle cx="345.6" cy="101.0" r="2.2" stroke="#4452f0"/><circle cx="347.6" cy="104.0" r="2.7" stroke="#3c69f9"/><circle cx="356.2" cy="102.5" r="2.2" stroke="#4452f0"/><circle cx="369.3" cy="108.1" r="2.2" stroke="#2e86f2"/><circle cx="369.3" cy="109.6" r="1.7" stroke="#2e86f2"/><circle cx="344.0" cy="111.6" r="2.7" stroke="#3c69f9"/><circle cx="341.5" cy="111.1" r="2.2" stroke="#3c69f9"/><circle cx="349.1" cy="119.7" r="2.2" stroke="#31c4a1"/><circle cx="346.6" cy="121.2" r="2.2" stroke="#05b6c9"/><circle cx="343.0" cy="125.3" r="2.7" stroke="#2e86f2"/><circle cx="347.1" cy="126.3" r="2.2" stroke="#2e86f2"/><circle cx="360.2" cy="129.8" r="2.7" stroke="#F4F713"/><circle cx="343.0" cy="135.4" r="2.2" stroke="#3c69f9"/><circle cx="349.1" cy="136.4" r="1.7" stroke="#31c4a1"/><circle cx="340.5" cy="133.3" r="2.2" stroke="#3c69f9"/><circle cx="343.0" cy="143.0" r="2.2" stroke="#21a0e2"/><circle cx="359.2" cy="143.0" r="1.7" stroke="#5fcb7a"/><circle cx="344.4" cy="157.8" r="1.7" stroke="#31c4a1"/><circle cx="94.7" cy="299.0" r="2.2" stroke="#2e86f2"/><circle cx="85.3" cy="314.5" r="1.7" stroke="#433ddc"/><circle cx="93.3" cy="312.9" r="1.7" stroke="#fec13a"/><circle cx="98.4" cy="303.4" r="2.2" stroke="#433ddc"/><circle cx="101.8" cy="303.4" r="2.2" stroke="#433ddc"/><circle cx="97.0" cy="308.5" r="2.2" stroke="#3c69f9"/><circle cx="102.4" cy="308.5" r="2.2" stroke="#433ddc"/><circle cx="106.9" cy="306.1" r="1.7" stroke="#a1ca41"/><circle cx="110.5" cy="304.4" r="2.2" stroke="#433ddc"/><circle cx="114.1" cy="303.4" r="2.2" stroke="#3c69f9"/><circle cx="115.6" cy="308.5" r="2.2" stroke="#433ddc"/><circle cx="112.9" cy="314.5" r="2.7" stroke="#2e86f2"/><circle cx="108.5" cy="311.5" r="2.2" stroke="#433ddc"/><circle cx="103.4" cy="312.9" r="2.2" stroke="#433ddc"/><circle cx="99.4" cy="316.6" r="2.2" stroke="#433ddc"/><circle cx="95.4" cy="317.6" r="2.2" stroke="#433ddc"/><circle cx="92.3" cy="320.6" r="2.2" stroke="#433ddc"/><circle cx="87.9" cy="320.6" r="2.2" stroke="#433ddc"/><circle cx="83.8" cy="324.6" r="2.2" stroke="#433ddc"/><circle cx="79.8" cy="327.3" r="2.2" stroke="#433ddc"/><circle cx="96.4" cy="324.6" r="2.2" stroke="#3c69f9"/><circle cx="101.4" cy="319.0" r="2.2" stroke="#4452f0"/><circle cx="105.5" cy="320.6" r="2.2" stroke="#3c69f9"/><circle cx="129.7" cy="300.4" r="2.2" stroke="#fec13a"/><circle cx="135.8" cy="304.4" r="2.2" stroke="#31c4a1"/><circle cx="139.2" cy="300.4" r="2.2" stroke="#a1ca41"/><circle cx="126.3" cy="301.4" r="2.2" stroke="#433ddc"/><circle cx="118.6" cy="305.5" r="2.2" stroke="#3c69f9"/></g>
<polyline points="204.70,124.00 206.35,123.47 208.06,123.16 209.78,122.85 211.49,122.53 213.20,122.20 214.91,121.87 216.62,121.53 218.33,121.18 220.03,120.83 221.74,120.47 223.44,120.10 225.14,119.73 226.83,119.35 228.53,118.96 230.23,118.57 231.92,118.17 233.61,117.77 235.30,117.35 236.99,116.94 238.67,116.51 240.36,116.08 242.04,115.65 243.72,115.21 245.40,114.76 247.08,114.30 248.75,113.84 250.43,113.38 252.10,112.90 253.77,112.42 255.43,111.94 257.10,111.45 258.76,110.95 260.43,110.45 262.09,109.94 263.75,109.42 265.40,108.90 267.06,108.38 268.71,107.85 270.36,107.31 272.01,106.76 273.66,106.21 275.30,105.66 276.95,105.10 278.59,104.53 280.23,103.96 281.86,103.38 283.50,102.80 285.13,102.21 286.76,101.61 288.39,101.01 290.02,100.41 291.64,99.80 293.27,99.18 294.89,98.56 296.51,97.93 298.12,97.30 299.74,96.66 301.35,96.01 302.96,95.36 304.57,94.71 306.18,94.05 307.78,93.38 309.38,92.71 310.98,92.04 312.58,91.36 314.18,90.67 315.77,89.98 317.36,89.28 318.95,88.58 320.54,87.88 322.12,87.17 323.71,86.45 325.29,85.73 326.87,85.00 328.44,84.27 330.02,83.53 331.59,82.79 333.16,82.05 334.72,81.29 336.29,80.54 337.85,79.78 339.41,79.01 340.97,78.24 342.53,77.47 344.08,76.69 345.63,75.90 347.18,75.11 348.72,74.32 350.27,73.52 351.81,72.72 353.35,71.91 354.89,71.10 356.42,70.28 357.95,69.46 359.48,68.63 361.01,67.80 362.54,66.97 364.06,66.13 365.58,65.29 367.10,64.44 368.61,63.58 370.13,62.73 371.64,61.87 373.14,61.00 374.65,60.13 376.15,59.26 377.65,58.38 379.15,57.50 380.65,56.61 382.14,55.72 383.63,54.83 385.12,53.93 386.60,53.02 388.09,52.12 389.57,51.21 391.04,50.29 392.52,49.37 393.99,48.45 395.50,47.60" fill="none" stroke="#b8b8b8" stroke-width="0.8" stroke-dasharray="2 1.2"/>
<polyline points="395.50,47.60 393.71,50.37 392.44,53.90 391.14,57.40 389.80,60.89 388.44,64.37 387.05,67.83 385.62,71.27 384.16,74.70 382.68,78.10 381.16,81.50 379.61,84.87 378.03,88.23 376.42,91.57 374.78,94.89 373.11,98.19 371.41,101.47 369.68,104.74 367.93,107.99 366.14,111.21 364.32,114.42 362.48,117.61 360.60,120.78 358.70,123.93 356.76,127.06 354.80,130.17 352.81,133.26 350.80,136.33 348.75,139.38 346.68,142.40 344.58,145.41 342.45,148.39 340.29,151.35 338.11,154.29 335.90,157.21 333.66,160.10 331.39,162.98 329.10,165.82 326.78,168.65 324.44,171.45 322.06,174.23 319.67,176.99 317.24,179.72 314.79,182.43 312.32,185.12 309.82,187.78 307.29,190.41 304.74,193.02 302.16,195.61 299.56,198.17 296.94,200.70 294.29,203.22 291.61,205.71 288.92,208.17 286.20,210.61 283.46,213.03 280.70,215.42 277.91,217.79 275.11,220.14 272.28,222.46 269.43,224.76 266.56,227.04 263.68,229.29 260.77,231.52 257.84,233.73 254.90,235.92 251.93,238.08 248.95,240.22 245.95,242.34 242.93,244.44 239.90,246.51 236.84,248.56 233.77,250.60 230.69,252.61 227.59,254.59 224.47,256.56 221.34,258.51 218.20,260.43 215.04,262.33 211.86,264.21 208.68,266.08 205.47,267.92 202.26,269.74 199.03,271.53 195.79,273.31 192.54,275.07 189.28,276.81 186.01,278.53 182.72,280.23 179.43,281.91 176.12,283.57 172.81,285.21 169.48,286.83 166.15,288.43 162.81,290.01 159.45,291.57 156.09,293.12 152.73,294.64 149.35,296.15 145.97,297.63 142.58,299.10 139.19,300.55 135.79,301.99 132.38,303.40 128.97,304.80 125.55,306.18 122.13,307.54 118.71,308.88 115.28,310.20 111.85,311.51 108.41,312.80 104.97,314.08 101.53,315.33 98.09,316.57 94.64,317.79 91.19,319.00 87.75,320.19 84.30,321.36 80.85,322.52 77.60,324.40" fill="none" stroke="#b8b8b8" stroke-width="0.8" stroke-dasharray="2 1.2"/>
<polyline points="77.60,324.40 78.52,322.55 79.84,321.05 81.15,319.54 82.46,318.04 83.76,316.52 85.07,315.01 86.37,313.49 87.67,311.97 88.96,310.45 90.26,308.93 91.55,307.40 92.83,305.87 94.12,304.33 95.40,302.79 96.68,301.25 97.95,299.71 99.22,298.16 100.49,296.61 101.75,295.06 103.02,293.51 104.27,291.95 105.53,290.39 106.78,288.82 108.03,287.26 109.27,285.68 110.51,284.11 111.75,282.53 112.99,280.96 114.22,279.37 115.44,277.79 116.66,276.20 117.88,274.61 119.10,273.01 120.31,271.41 121.52,269.81 122.72,268.21 123.92,266.60 125.11,264.99 126.31,263.38 127.49,261.76 128.68,260.14 129.85,258.52 131.03,256.90 132.20,255.27 133.36,253.64 134.53,252.00 135.68,250.36 136.83,248.72 137.98,247.08 139.13,245.43 140.26,243.78 141.40,242.13 142.53,240.47 143.65,238.81 144.77,237.15 145.89,235.48 147.00,233.81 148.10,232.14 149.21,230.46 150.30,228.78 151.39,227.10 152.48,225.42 153.56,223.73 154.63,222.04 155.70,220.34 156.77,218.64 157.83,216.94 158.88,215.24 159.93,213.53 160.98,211.82 162.02,210.11 163.05,208.39 164.08,206.67 165.10,204.95 166.11,203.22 167.12,201.49 168.13,199.76 169.13,198.02 170.12,196.28 171.11,194.54 172.09,192.79 173.07,191.04 174.04,189.29 175.00,187.53 175.96,185.77 176.91,184.01 177.86,182.25 178.80,180.48 179.73,178.70 180.66,176.93 181.58,175.15 182.50,173.37 183.41,171.58 184.31,169.79 185.21,168.00 186.10,166.20 186.98,164.41 187.85,162.60 188.72,160.80 189.59,158.99 190.45,157.18 191.30,155.36 192.14,153.54 192.97,151.72 193.80,149.89 194.63,148.07 195.44,146.23 196.25,144.40 197.05,142.56 197.85,140.72 198.64,138.87 199.42,137.02 200.19,135.17 200.96,133.31 201.72,131.45 202.47,129.59 203.21,127.73 203.95,125.86 204.70,124.00" fill="none" stroke="#b8b8b8" stroke-width="0.8" stroke-dasharray="2 1.2"/>
<polyline points="77.60,324.40 80.88,323.12 84.10,322.07 87.32,321.01 90.54,319.93 93.76,318.83 96.97,317.72 100.18,316.60 103.39,315.45 106.59,314.30 109.79,313.12 112.98,311.93 116.18,310.73 119.36,309.51 122.54,308.27 125.72,307.01 128.89,305.75 132.06,304.46 135.22,303.16 138.38,301.84 141.53,300.51 144.67,299.16 147.81,297.80 150.95,296.42 154.07,295.02 157.19,293.61 160.31,292.18 163.41,290.73 166.51,289.27 169.60,287.79 172.69,286.30 175.76,284.79 178.83,283.26 181.89,281.72 184.95,280.16 187.99,278.59 191.03,276.99 194.06,275.39 197.07,273.76 200.08,272.12 203.08,270.46 206.07,268.79 209.05,267.10 212.02,265.39 214.99,263.67 217.94,261.93 220.88,260.17 223.81,258.40 226.72,256.61 229.63,254.80 232.53,252.98 235.42,251.14 238.29,249.28 241.15,247.41 244.00,245.52 246.84,243.61 249.67,241.68 252.48,239.74 255.28,237.79 258.07,235.81 260.85,233.82 263.61,231.81 266.36,229.78 269.09,227.74 271.82,225.68 274.52,223.60 277.22,221.51 279.90,219.40 282.56,217.27 285.21,215.12 287.85,212.96 290.47,210.78 293.08,208.59 295.67,206.37 298.24,204.14 300.80,201.89 303.34,199.62 305.87,197.34 308.38,195.04 310.88,192.72 313.35,190.38 315.82,188.03 318.26,185.66 320.69,183.27 323.10,180.87 325.49,178.44 327.86,176.00 330.22,173.54 332.56,171.07 334.88,168.57 337.18,166.06 339.46,163.53 341.73,160.98 343.97,158.42 346.20,155.84 348.40,153.24 350.59,150.62 352.76,147.98 354.91,145.33 357.03,142.66 359.14,139.97 361.23,137.26 363.29,134.53 365.34,131.79 367.36,129.03 369.36,126.25 371.35,123.45 373.31,120.63 375.24,117.80 377.16,114.95 379.05,112.08 380.93,109.19 382.78,106.28 384.60,103.36 386.41,100.41 388.19,97.45 389.94,94.47 391.68,91.47 393.39,88.46 395.30,85.80" fill="none" stroke="#454545" stroke-width="1"/>
<polyline points="77.60,324.40 78.39,322.64 79.70,321.30 80.99,319.95 82.28,318.59 83.56,317.23 84.84,315.87 86.11,314.50 87.37,313.12 88.63,311.74 89.88,310.36 91.13,308.97 92.37,307.58 93.60,306.18 94.83,304.77 96.05,303.37 97.27,301.95 98.48,300.54 99.69,299.12 100.89,297.69 102.09,296.26 103.28,294.83 104.46,293.39 105.64,291.95 106.82,290.50 107.99,289.05 109.15,287.60 110.31,286.14 111.47,284.68 112.62,283.21 113.76,281.74 114.90,280.27 116.04,278.79 117.17,277.31 118.30,275.83 119.42,274.34 120.54,272.85 121.66,271.36 122.77,269.86 123.87,268.36 124.97,266.86 126.07,265.35 127.17,263.84 128.26,262.33 129.35,260.82 130.43,259.30 131.51,257.78 132.58,256.25 133.66,254.73 134.73,253.20 135.79,251.67 136.85,250.13 137.91,248.60 138.97,247.06 140.02,245.52 141.07,243.97 142.12,242.43 143.16,240.88 144.20,239.33 145.24,237.78 146.28,236.22 147.31,234.67 148.34,233.11 149.37,231.55 150.39,229.99 151.41,228.43 152.43,226.86 153.45,225.29 154.47,223.73 155.48,222.16 156.49,220.59 157.50,219.01 158.51,217.44 159.52,215.86 160.52,214.29 161.52,212.71 162.52,211.13 163.52,209.55 164.52,207.97 165.52,206.39 166.51,204.81 167.50,203.23 168.49,201.64 169.48,200.06 170.47,198.47 171.46,196.89 172.45,195.30 173.44,193.71 174.42,192.12 175.41,190.54 176.39,188.95 177.37,187.36 178.35,185.77 179.34,184.18 180.32,182.59 181.30,181.01 182.28,179.42 183.26,177.83 184.24,176.24 185.22,174.65 186.20,173.06 187.18,171.47 188.16,169.89 189.14,168.30 190.12,166.71 191.10,165.13 192.08,163.54 193.06,161.96 194.04,160.37 195.02,158.79 196.00,157.21 196.98,155.62 197.97,154.04 198.95,152.46 199.94,150.88 200.92,149.31 201.91,147.73 202.89,146.15 203.88,144.58 204.70,142.90" fill="none" stroke="#454545" stroke-width="1" stroke-dasharray="2.8 2"/>
<polyline points="204.70,142.90 206.56,143.49 208.19,143.16 209.82,142.82 211.45,142.49 213.08,142.15 214.71,141.81 216.34,141.47 217.97,141.12 219.60,140.77 221.23,140.43 222.87,140.07 224.50,139.72 226.13,139.37 227.76,139.01 229.40,138.65 231.03,138.29 232.66,137.93 234.29,137.56 235.93,137.20 237.56,136.83 239.19,136.45 240.82,136.08 242.46,135.70 244.09,135.32 245.72,134.94 247.35,134.56 248.98,134.18 250.62,133.79 252.25,133.40 253.88,133.01 255.51,132.61 257.14,132.21 258.77,131.81 260.40,131.41 262.03,131.01 263.66,130.60 265.29,130.19 266.92,129.78 268.55,129.37 270.18,128.95 271.81,128.53 273.43,128.11 275.06,127.69 276.69,127.26 278.31,126.83 279.94,126.40 281.56,125.96 283.19,125.53 284.81,125.09 286.43,124.65 288.06,124.20 289.68,123.75 291.30,123.30 292.92,122.85 294.54,122.39 296.16,121.94 297.77,121.47 299.39,121.01 301.01,120.54 302.62,120.07 304.24,119.60 305.85,119.13 307.46,118.65 309.07,118.17 310.68,117.68 312.29,117.20 313.90,116.71 315.51,116.21 317.12,115.72 318.72,115.22 320.33,114.72 321.93,114.21 323.53,113.70 325.13,113.19 326.73,112.68 328.33,112.16 329.93,111.64 331.53,111.12 333.12,110.59 334.71,110.07 336.31,109.53 337.90,109.00 339.49,108.46 341.08,107.92 342.66,107.37 344.25,106.82 345.83,106.27 347.41,105.72 349.00,105.16 350.57,104.60 352.15,104.03 353.73,103.46 355.30,102.89 356.88,102.31 358.45,101.73 360.01,101.14 361.58,100.56 363.15,99.96 364.71,99.37 366.27,98.76 367.83,98.16 369.39,97.55 370.94,96.93 372.50,96.32 374.05,95.69 375.60,95.07 377.15,94.43 378.69,93.80 380.23,93.15 381.77,92.51 383.31,91.86 384.85,91.20 386.38,90.54 387.91,89.87 389.44,89.20 390.96,88.53 392.48,87.84 394.01,87.16 395.30,85.80" fill="none" stroke="#454545" stroke-width="0.9" stroke-dasharray="3 1.2 1 1.2"/>
<line x1="77.5" y1="314.9" x2="77.5" y2="334.4" stroke="#1C7DB8" stroke-width="1.6"/>
<line x1="73.6" y1="314.9" x2="81.4" y2="314.9" stroke="#1C7DB8" stroke-width="1.6"/>
<line x1="73.6" y1="334.4" x2="81.4" y2="334.4" stroke="#1C7DB8" stroke-width="1.6"/>
<line x1="67.9" y1="324.7" x2="86.6" y2="324.7" stroke="#1C7DB8" stroke-width="1.6"/>
<line x1="67.9" y1="320.8" x2="67.9" y2="328.59999999999997" stroke="#1C7DB8" stroke-width="1.6"/>
<line x1="86.6" y1="320.8" x2="86.6" y2="328.59999999999997" stroke="#1C7DB8" stroke-width="1.6"/>
<line x1="73.30" y1="324.70" x2="81.70" y2="324.70" stroke="#1C7DB8" stroke-width="1.3"/>
<line x1="74.53" y1="321.73" x2="80.47" y2="327.67" stroke="#1C7DB8" stroke-width="1.3"/>
<line x1="77.50" y1="320.50" x2="77.50" y2="328.90" stroke="#1C7DB8" stroke-width="1.3"/>
<line x1="80.47" y1="321.73" x2="74.53" y2="327.67" stroke="#1C7DB8" stroke-width="1.3"/>
<line x1="204.6" y1="124.1" x2="204.6" y2="162.5" stroke="#FDBF4E" stroke-width="1.5"/>
<line x1="200.7" y1="124.1" x2="208.5" y2="124.1" stroke="#FDBF4E" stroke-width="1.5"/>
<line x1="200.7" y1="162.5" x2="208.5" y2="162.5" stroke="#FDBF4E" stroke-width="1.5"/>
<line x1="186.3" y1="143.1" x2="223.0" y2="143.1" stroke="#FDBF4E" stroke-width="1.5"/>
<line x1="186.3" y1="139.2" x2="186.3" y2="147.0" stroke="#FDBF4E" stroke-width="1.5"/>
<line x1="223.0" y1="139.2" x2="223.0" y2="147.0" stroke="#FDBF4E" stroke-width="1.5"/>
<polygon points="204.6,138.105 209.475,145.125 199.725,145.125" fill="none" stroke="#FDBF4E" stroke-width="1.3" stroke-linejoin="miter"/>
<line x1="395.5" y1="57.0" x2="395.5" y2="114.6" stroke="#E6212A" stroke-width="1.5"/>
<line x1="391.7" y1="57.0" x2="399.3" y2="57.0" stroke="#E6212A" stroke-width="1.5"/>
<line x1="391.7" y1="114.6" x2="399.3" y2="114.6" stroke="#E6212A" stroke-width="1.5"/>
<line x1="368.3" y1="85.9" x2="422.6" y2="85.9" stroke="#E6212A" stroke-width="1.5"/>
<line x1="368.3" y1="82.10000000000001" x2="368.3" y2="89.7" stroke="#E6212A" stroke-width="1.5"/>
<line x1="422.6" y1="82.10000000000001" x2="422.6" y2="89.7" stroke="#E6212A" stroke-width="1.5"/>
<rect x="392.2" y="82.60000000000001" width="6.6" height="6.6" fill="none" stroke="#E6212A" stroke-width="1.3"/>
<rect x="59.50" y="9.29" width="363.00" height="334.11" fill="none" stroke="#6f6f6f" stroke-width="1.3"/>
<line x1="59.50" y1="343.40" x2="59.50" y2="339.80" stroke="#6f6f6f" stroke-width="1.1"/>
<line x1="59.50" y1="9.29" x2="59.50" y2="12.89" stroke="#6f6f6f" stroke-width="1.1"/>
<line x1="104.88" y1="343.40" x2="104.88" y2="339.80" stroke="#6f6f6f" stroke-width="1.1"/>
<line x1="104.88" y1="9.29" x2="104.88" y2="12.89" stroke="#6f6f6f" stroke-width="1.1"/>
<line x1="150.25" y1="343.40" x2="150.25" y2="339.80" stroke="#6f6f6f" stroke-width="1.1"/>
<line x1="150.25" y1="9.29" x2="150.25" y2="12.89" stroke="#6f6f6f" stroke-width="1.1"/>
<line x1="195.63" y1="343.40" x2="195.63" y2="339.80" stroke="#6f6f6f" stroke-width="1.1"/>
<line x1="195.63" y1="9.29" x2="195.63" y2="12.89" stroke="#6f6f6f" stroke-width="1.1"/>
<line x1="241.00" y1="343.40" x2="241.00" y2="339.80" stroke="#6f6f6f" stroke-width="1.1"/>
<line x1="241.00" y1="9.29" x2="241.00" y2="12.89" stroke="#6f6f6f" stroke-width="1.1"/>
<line x1="286.38" y1="343.40" x2="286.38" y2="339.80" stroke="#6f6f6f" stroke-width="1.1"/>
<line x1="286.38" y1="9.29" x2="286.38" y2="12.89" stroke="#6f6f6f" stroke-width="1.1"/>
<line x1="331.75" y1="343.40" x2="331.75" y2="339.80" stroke="#6f6f6f" stroke-width="1.1"/>
<line x1="331.75" y1="9.29" x2="331.75" y2="12.89" stroke="#6f6f6f" stroke-width="1.1"/>
<line x1="377.13" y1="343.40" x2="377.13" y2="339.80" stroke="#6f6f6f" stroke-width="1.1"/>
<line x1="377.13" y1="9.29" x2="377.13" y2="12.89" stroke="#6f6f6f" stroke-width="1.1"/>
<line x1="422.50" y1="343.40" x2="422.50" y2="339.80" stroke="#6f6f6f" stroke-width="1.1"/>
<line x1="422.50" y1="9.29" x2="422.50" y2="12.89" stroke="#6f6f6f" stroke-width="1.1"/>
<line x1="59.50" y1="343.40" x2="63.10" y2="343.40" stroke="#6f6f6f" stroke-width="1.1"/>
<line x1="422.50" y1="343.40" x2="418.90" y2="343.40" stroke="#6f6f6f" stroke-width="1.1"/>
<line x1="59.50" y1="295.67" x2="63.10" y2="295.67" stroke="#6f6f6f" stroke-width="1.1"/>
<line x1="422.50" y1="295.67" x2="418.90" y2="295.67" stroke="#6f6f6f" stroke-width="1.1"/>
<line x1="59.50" y1="247.94" x2="63.10" y2="247.94" stroke="#6f6f6f" stroke-width="1.1"/>
<line x1="422.50" y1="247.94" x2="418.90" y2="247.94" stroke="#6f6f6f" stroke-width="1.1"/>
<line x1="59.50" y1="200.21" x2="63.10" y2="200.21" stroke="#6f6f6f" stroke-width="1.1"/>
<line x1="422.50" y1="200.21" x2="418.90" y2="200.21" stroke="#6f6f6f" stroke-width="1.1"/>
<line x1="59.50" y1="152.48" x2="63.10" y2="152.48" stroke="#6f6f6f" stroke-width="1.1"/>
<line x1="422.50" y1="152.48" x2="418.90" y2="152.48" stroke="#6f6f6f" stroke-width="1.1"/>
<line x1="59.50" y1="104.75" x2="63.10" y2="104.75" stroke="#6f6f6f" stroke-width="1.1"/>
<line x1="422.50" y1="104.75" x2="418.90" y2="104.75" stroke="#6f6f6f" stroke-width="1.1"/>
<line x1="59.50" y1="57.02" x2="63.10" y2="57.02" stroke="#6f6f6f" stroke-width="1.1"/>
<line x1="422.50" y1="57.02" x2="418.90" y2="57.02" stroke="#6f6f6f" stroke-width="1.1"/>
<line x1="59.50" y1="9.29" x2="63.10" y2="9.29" stroke="#6f6f6f" stroke-width="1.1"/>
<line x1="422.50" y1="9.29" x2="418.90" y2="9.29" stroke="#6f6f6f" stroke-width="1.1"/>
<text transform="translate(58.80,362.8) scale(1,1.1)" text-anchor="middle" font-size="13" fill="#262626">0</text>
<text transform="translate(104.17,362.8) scale(1,1.1)" text-anchor="middle" font-size="13" fill="#262626">0.05</text>
<text transform="translate(149.55,362.8) scale(1,1.1)" text-anchor="middle" font-size="13" fill="#262626">0.1</text>
<text transform="translate(194.93,362.8) scale(1,1.1)" text-anchor="middle" font-size="13" fill="#262626">0.15</text>
<text transform="translate(240.30,362.8) scale(1,1.1)" text-anchor="middle" font-size="13" fill="#262626">0.2</text>
<text transform="translate(285.68,362.8) scale(1,1.1)" text-anchor="middle" font-size="13" fill="#262626">0.25</text>
<text transform="translate(331.05,362.8) scale(1,1.1)" text-anchor="middle" font-size="13" fill="#262626">0.3</text>
<text transform="translate(376.43,362.8) scale(1,1.1)" text-anchor="middle" font-size="13" fill="#262626">0.35</text>
<text transform="translate(421.80,362.8) scale(1,1.1)" text-anchor="middle" font-size="13" fill="#262626">0.4</text>
<text transform="translate(53.5,348.90) scale(1,1.1)" text-anchor="end" font-size="13" fill="#262626">0</text>
<text transform="translate(53.5,301.17) scale(1,1.1)" text-anchor="end" font-size="13" fill="#262626">0.05</text>
<text transform="translate(53.5,253.44) scale(1,1.1)" text-anchor="end" font-size="13" fill="#262626">0.1</text>
<text transform="translate(53.5,205.71) scale(1,1.1)" text-anchor="end" font-size="13" fill="#262626">0.15</text>
<text transform="translate(53.5,157.98) scale(1,1.1)" text-anchor="end" font-size="13" fill="#262626">0.2</text>
<text transform="translate(53.5,110.25) scale(1,1.1)" text-anchor="end" font-size="13" fill="#262626">0.25</text>
<text transform="translate(53.5,62.52) scale(1,1.1)" text-anchor="end" font-size="13" fill="#262626">0.3</text>
<text transform="translate(53.5,14.79) scale(1,1.1)" text-anchor="end" font-size="13" fill="#262626">0.35</text>
<circle cx="86.3" cy="57.4" r="2.9" fill="none" stroke="#333" stroke-width="0.9"/>
<circle cx="86.3" cy="76.4" r="4.0" fill="none" stroke="#333" stroke-width="0.9"/>
<text x="95.0" y="62.3" font-size="13" fill="#262626">Layer depth = 1 km</text>
<text x="95.0" y="81.3" font-size="13" fill="#262626">Layer depth = 2 km</text>
<rect x="297.3" y="216.5" width="115.1" height="115.6" fill="#fff" stroke="#6a6a6a" stroke-width="1"/>
<line x1="301.2" y1="226.5" x2="339" y2="226.5" stroke="#8a8a8a" stroke-width="1.5"/>
<line x1="301.2" y1="242.5" x2="339" y2="242.5" stroke="#8a8a8a" stroke-width="1.3" stroke-dasharray="2.6 2.4"/>
<line x1="301.2" y1="258.5" x2="339" y2="258.5" stroke="#8a8a8a" stroke-width="1.3" stroke-dasharray="2 1 0.9 1"/>
<line x1="301.2" y1="322.5" x2="339" y2="322.5" stroke="#d4d4d4" stroke-width="1.1"/>
<path d="M301,280.3 L309,280.3 C316,280.3 316,277.5 320.4,274.5 C325,271.5 325,268.7 332,268.7 L339,268.7" fill="none" stroke="#E6212A" stroke-width="1.5"/>
<line x1="320.4" y1="268.9" x2="320.4" y2="280.1" stroke="#E6212A" stroke-width="1.5"/>
<line x1="316.4" y1="268.9" x2="324.4" y2="268.9" stroke="#E6212A" stroke-width="1.5"/>
<line x1="316.4" y1="280.1" x2="324.4" y2="280.1" stroke="#E6212A" stroke-width="1.5"/>
<line x1="310.6" y1="274.5" x2="329.8" y2="274.5" stroke="#E6212A" stroke-width="1.5"/>
<line x1="310.6" y1="271.0" x2="310.6" y2="278.0" stroke="#E6212A" stroke-width="1.5"/>
<line x1="329.8" y1="271.0" x2="329.8" y2="278.0" stroke="#E6212A" stroke-width="1.5"/>
<rect x="317.2" y="271.3" width="6.4" height="6.4" fill="none" stroke="#E6212A" stroke-width="1.3"/>
<path d="M301,296.3 L309,296.3 C316,296.3 316,293.5 320.4,290.5 C325,287.5 325,284.7 332,284.7 L339,284.7" fill="none" stroke="#FDBF4E" stroke-width="1.5"/>
<line x1="320.4" y1="284.9" x2="320.4" y2="296.1" stroke="#FDBF4E" stroke-width="1.5"/>
<line x1="316.4" y1="284.9" x2="324.4" y2="284.9" stroke="#FDBF4E" stroke-width="1.5"/>
<line x1="316.4" y1="296.1" x2="324.4" y2="296.1" stroke="#FDBF4E" stroke-width="1.5"/>
<line x1="310.6" y1="290.5" x2="329.8" y2="290.5" stroke="#FDBF4E" stroke-width="1.5"/>
<line x1="310.6" y1="287.0" x2="310.6" y2="294.0" stroke="#FDBF4E" stroke-width="1.5"/>
<line x1="329.8" y1="287.0" x2="329.8" y2="294.0" stroke="#FDBF4E" stroke-width="1.5"/>
<polygon points="320.4,286.5 324.9,293.5 315.9,293.5" fill="none" stroke="#FDBF4E" stroke-width="1.3"/>
<path d="M301,312.3 L309,312.3 C316,312.3 316,309.5 320.4,306.5 C325,303.5 325,300.7 332,300.7 L339,300.7" fill="none" stroke="#1C7DB8" stroke-width="1.5"/>
<line x1="320.4" y1="300.9" x2="320.4" y2="312.1" stroke="#1C7DB8" stroke-width="1.5"/>
<line x1="316.4" y1="300.9" x2="324.4" y2="300.9" stroke="#1C7DB8" stroke-width="1.5"/>
<line x1="316.4" y1="312.1" x2="324.4" y2="312.1" stroke="#1C7DB8" stroke-width="1.5"/>
<line x1="310.6" y1="306.5" x2="329.8" y2="306.5" stroke="#1C7DB8" stroke-width="1.5"/>
<line x1="310.6" y1="303.0" x2="310.6" y2="310.0" stroke="#1C7DB8" stroke-width="1.5"/>
<line x1="329.8" y1="303.0" x2="329.8" y2="310.0" stroke="#1C7DB8" stroke-width="1.5"/>
<line x1="316.40" y1="306.50" x2="324.40" y2="306.50" stroke="#1C7DB8" stroke-width="1.2"/>
<line x1="317.57" y1="303.67" x2="323.23" y2="309.33" stroke="#1C7DB8" stroke-width="1.2"/>
<line x1="320.40" y1="302.50" x2="320.40" y2="310.50" stroke="#1C7DB8" stroke-width="1.2"/>
<line x1="323.23" y1="303.67" x2="317.57" y2="309.33" stroke="#1C7DB8" stroke-width="1.2"/>
<text x="342.4" y="231.0" font-size="11.3" fill="#262626">dc + nd</text>
<text x="342.4" y="247.0" font-size="11.3" fill="#262626">df + nd</text>
<text x="342.4" y="263.0" font-size="11.3" fill="#262626">dc + df</text>
<text x="342.4" y="279.0" font-size="11.3" fill="#262626">100% dc</text>
<text x="342.4" y="295.0" font-size="11.3" fill="#262626">100% df</text>
<text x="342.4" y="311.0" font-size="11.3" fill="#262626">100% nd</text>
<text x="342.4" y="327.0" font-size="11.3" fill="#262626">experimental</text>
<defs><linearGradient id="cb" x1="0" y1="0" x2="0" y2="1"><stop offset="0.0030" stop-color="#F4F713"/><stop offset="0.0775" stop-color="#F5DD28"/><stop offset="0.1521" stop-color="#FEC13A"/><stop offset="0.2326" stop-color="#D6BE26"/><stop offset="0.3042" stop-color="#A0CA42"/><stop offset="0.3817" stop-color="#5CCB7C"/><stop offset="0.4563" stop-color="#30C4A2"/><stop offset="0.5339" stop-color="#02B8C7"/><stop offset="0.6084" stop-color="#1EA7DE"/><stop offset="0.6860" stop-color="#2A8EEC"/><stop offset="0.7605" stop-color="#3577FC"/><stop offset="0.8381" stop-color="#4457F5"/><stop offset="0.9096" stop-color="#433DDC"/><stop offset="0.9961" stop-color="#3E28AB"/></linearGradient></defs>
<rect x="445.8" y="10.0" width="19.7" height="335.3" fill="url(#cb)" stroke="#6a6a6a" stroke-width="1"/>
<line x1="462" y1="314.84" x2="465.5" y2="314.84" stroke="#555" stroke-width="1"/>
<text x="470.6" y="319.54" font-size="13" fill="#262626">1</text>
<line x1="462" y1="264.00" x2="465.5" y2="264.00" stroke="#555" stroke-width="1"/>
<text x="470.6" y="268.70" font-size="13" fill="#262626">2</text>
<line x1="462" y1="213.16" x2="465.5" y2="213.16" stroke="#555" stroke-width="1"/>
<text x="470.6" y="217.86" font-size="13" fill="#262626">3</text>
<line x1="462" y1="162.32" x2="465.5" y2="162.32" stroke="#555" stroke-width="1"/>
<text x="470.6" y="167.02" font-size="13" fill="#262626">4</text>
<line x1="462" y1="111.48" x2="465.5" y2="111.48" stroke="#555" stroke-width="1"/>
<text x="470.6" y="116.18" font-size="13" fill="#262626">5</text>
<line x1="462" y1="60.64" x2="465.5" y2="60.64" stroke="#555" stroke-width="1"/>
<text x="470.6" y="65.34" font-size="13" fill="#262626">6</text>
<line x1="462" y1="9.80" x2="465.5" y2="9.80" stroke="#555" stroke-width="1"/>
<text x="470.6" y="14.50" font-size="13" fill="#262626">7</text>
<text transform="translate(493.8,176.8) rotate(-90)" text-anchor="middle" font-size="11.4" fill="#262626">Center of mass (km)</text>
<g transform="translate(218.3,381.6)" fill="#262626"><text font-size="14.3" font-style="italic">δ</text><text x="6.6" y="6.6" font-size="9.5">p</text><text x="13.3" y="0" font-size="14.3">(532)</text></g>
<g transform="translate(17.2,198) rotate(-90)" fill="#262626"><text font-size="14.3" font-style="italic">δ</text><text x="6.6" y="6.6" font-size="9.5">p</text><text x="13.3" y="0" font-size="14.3">(355)</text></g>
</svg>
</body></html>
